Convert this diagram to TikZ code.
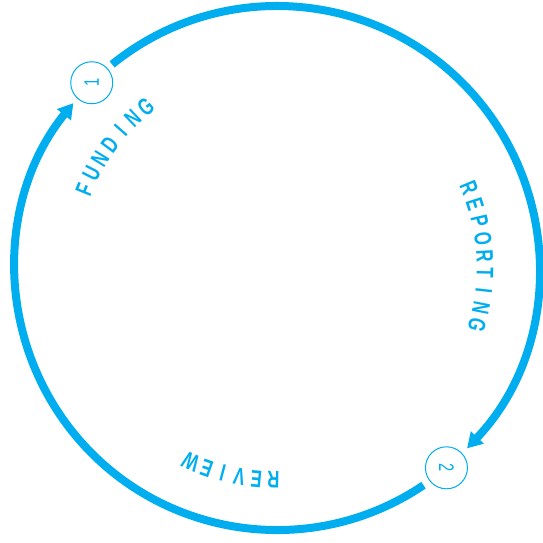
\documentclass[tikz,border=0pt]{standalone}
\usepackage{fontspec}
\usepackage{graphicx}
\setmainfont{Liberation Sans}
\usetikzlibrary{arrows.meta,calc}
\definecolor{cyc}{RGB}{0,174,239}
\newcommand\narrowch[1]{\scalebox{0.7}[1]{#1}}
\tikzset{
  ring/.style={line width=8pt, draw=cyc, -{Triangle[length=15pt,width=17pt]}},
  num/.style={circle, draw=cyc, fill=white, line width=1pt, minimum size=42pt, inner sep=0pt, text=cyc, font=\fontsize{21}{21}\selectfont},
  lettr/.style={text=cyc, inner sep=0pt, font=\fontsize{24}{24}\selectfont\bfseries},
}
\begin{document}
\begin{tikzpicture}[x=1pt,y=1pt]
\useasboundingbox (0,0) rectangle (543,542);
\coordinate (c) at (277pt,274pt);
% arcs of the cycle
\draw[ring] ($(c)+(129:262pt)$) arc[start angle=129, end angle=-43.5, radius=262pt];
\draw[ring] ($(c)+(-56:262pt)$) arc[start angle=-56, end angle=-219, radius=262pt];
% numbered nodes
\node[num, rotate=90] (n1) at ($(c)+(135:262pt)$) {\narrowch{1}};
\node[num, rotate=-90] (n2) at ($(c)+(-49.7:262pt)$) {\narrowch{2}};
% words along the circle
\foreach \ch [count=\i] in {F,U,N,D,I,N,G} {
  \pgfmathsetmacro\a{143.5+(4-\i)*4.8}
  \node[lettr, rotate=\a-90] (fund\i) at ($(c)+(\a:208pt)$) {\narrowch{\ch}};
}
\foreach \ch [count=\i] in {R,E,P,O,R,T,I,N,G} {
  \pgfmathsetmacro\a{3.4+(5-\i)*4.8}
  \node[lettr, rotate=\a-90] (rep\i) at ($(c)+(\a:208pt)$) {\narrowch{\ch}};
}
\foreach \ch [count=\i] in {R,E,V,I,E,W} {
  \pgfmathsetmacro\a{-102.5+(3.5-\i)*4.6}
  \node[lettr, rotate=\a-90] (rev\i) at ($(c)+(\a:212pt)$) {\narrowch{\ch}};
}
\end{tikzpicture}
\end{document}
